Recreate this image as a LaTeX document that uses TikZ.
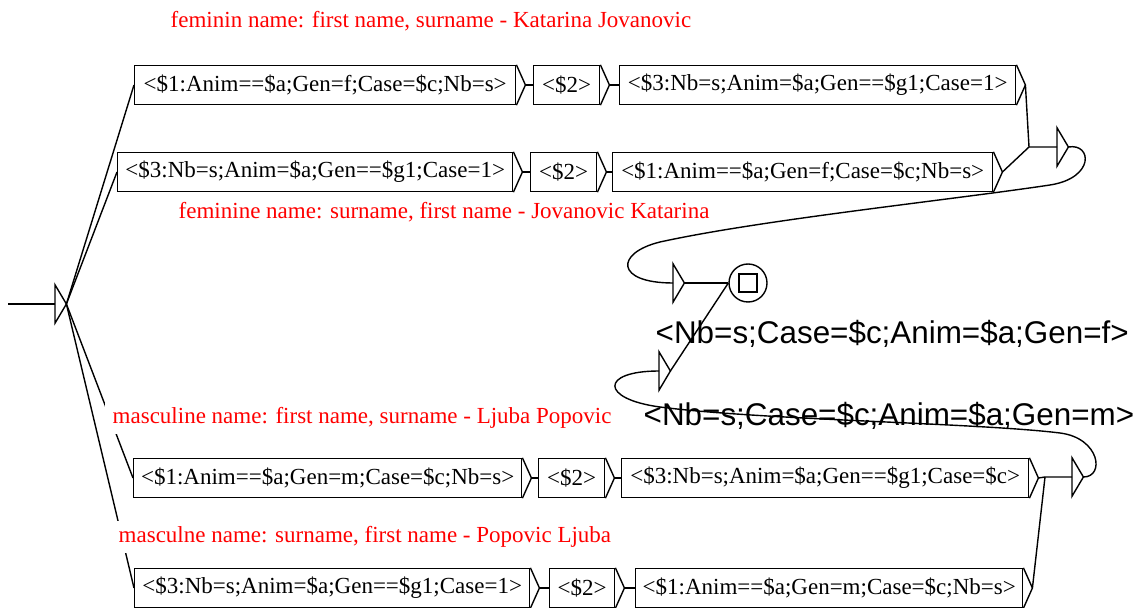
\documentclass[tikz,border=0pt]{standalone}
\usepackage{fontspec}
\setmainfont{Liberation Serif}
\newfontfamily\outfamily{Liberation Sans}
\usetikzlibrary{positioning}

\tikzset{
  box/.style={draw, anchor=west, inner sep=0pt, minimum height=19.5pt,
    font=\fontsize{11.5}{13}\selectfont},
  eps/.style={anchor=west, inner sep=0pt, minimum width=5pt, minimum height=18.5pt},
  cmt/.style={anchor=west, fill=white, text=red, inner xsep=4pt, inner ysep=0pt,
    minimum height=16pt, font=\fontsize{11.5}{13}\selectfont},
  outp/.style={anchor=west, inner sep=0pt, font=\outfamily\fontsize{15.7}{18}\selectfont}
}

\begin{document}
\begin{tikzpicture}[x=0.5pt, y=-0.5pt, line width=0.7pt]
    % box labels
    \def\fA{<\$1:Anim==\$a;Gen=f;Case=\$c;Nb=s>}
    \def\mA{<\$1:Anim==\$a;Gen=m;Case=\$c;Nb=s>}
    \def\gB{<\$3:Nb=s;Anim=\$a;Gen==\$g1;Case=1>}
    \def\cB{<\$3:Nb=s;Anim=\$a;Gen==\$g1;Case=\$c>}
    \def\two{<\$2>}

    \useasboundingbox (0,0) rectangle (1138,608);

    % feminine rows
    \node[box, minimum width=190.5pt] (r1a) at (134,85) {\fA};
    \node[box, minimum width=33pt] (r1b) at (533,85) {\two};
    \node[box, minimum width=198pt] (r1c) at (619,85) {\gB};
    \node[box, minimum width=197.5pt] (r2a) at (117,172) {\gB};
    \node[box, minimum width=33pt] (r2b) at (530,172) {\two};
    \node[box, minimum width=190pt] (r2c) at (612,172) {\fA};

    % masculine rows
    \node[box, minimum width=194pt] (r3a) at (133,478) {\mA};
    \node[box, minimum width=33pt] (r3b) at (538,478) {\two};
    \node[box, minimum width=203.5pt] (r3c) at (621,478) {\cB};
    \node[box, minimum width=197.5pt] (r4a) at (134,588) {\gB};
    \node[box, minimum width=32.5pt] (r4b) at (549,588) {\two};
    \node[box, minimum width=193.5pt] (r4c) at (635,588) {\mA};

    % tip on the right of every box
    \foreach \b in {r1a,r1b,r1c,r2a,r2b,r2c,r3a,r3b,r3c,r4a,r4b,r4c} {
      \draw (\b.north east) -- ([xshift=4.5pt]\b.east) coordinate (\b-o) -- (\b.south east);
    }

    % empty boxes
    \foreach \n/\x/\y in {ini/55/304, fE/1057/147, mE/1072/477, fO/673/283, mO/659/371} {
      \node[eps] (\n) at (\x,\y) {};
      \draw (\n.north west) -- (\n.east) -- (\n.south west) -- cycle;
    }

    % final state
    \node[draw, circle, minimum size=19pt, inner sep=0pt] (fin) at (748,283) {};
    \node[draw, minimum size=9pt, inner sep=0pt] (finsq) at (fin) {};

    % outputs
    \node[outp] (fout) at (655,334) {<Nb=s;Case=\$c;Anim=\$a;Gen=f>};
    \node[outp] (mout) at (643,416) {<Nb=s;Case=\$c;Anim=\$a;Gen=m>};

    % transitions
    \coordinate (st) at (8,304);
    \coordinate (fJ) at (1029,147);
    \coordinate (mJ) at (1045,477);
    \draw (st) -- (ini.west);
    \foreach \row in {1,...,4} {
      \draw (ini.east) -- (r\row a.west);
      \draw (r\row a-o) -- (r\row b.west);
      \draw (r\row b-o) -- (r\row c.west);
    }
    \draw (r1c-o) -- (fJ) -- (fE.west);
    \draw (r2c-o) -- (fJ);
    \draw (r3c-o) -- (mJ) -- (mE.west);
    \draw (r4c-o) -- (mJ);
    \draw (fE.east) .. controls (1092,143) and (1095,178) .. (1050,185)
      .. controls (950,200) and (760,220) .. (660,242)
      .. controls (615,253) and (615,283) .. (fO.west);
    \draw (mE.east) .. controls (1105,477) and (1100,438) .. (1060,433)
      .. controls (980,423) and (760,420) .. (660,407)
      .. controls (600,399) and (600,371) .. (mO.west);
    \draw (fO.east) -- (fin.west);
    \draw (mO.east) -- (fin.west);

    % comments
    \node[cmt] (c1) at (162,21.5) {feminin name: first name, surname - Katarina Jovanovic};
    \node[cmt] (c2) at (170,212.5) {feminine name: surname, first name - Jovanovic Katarina};
    \node[cmt] (c3) at (104,417.5) {masculine name: first name, surname - Ljuba Popovic};
    \node[cmt] (c4) at (110,536.5) {masculne name: surname, first name - Popovic Ljuba};

  \end{tikzpicture}
\end{document}
